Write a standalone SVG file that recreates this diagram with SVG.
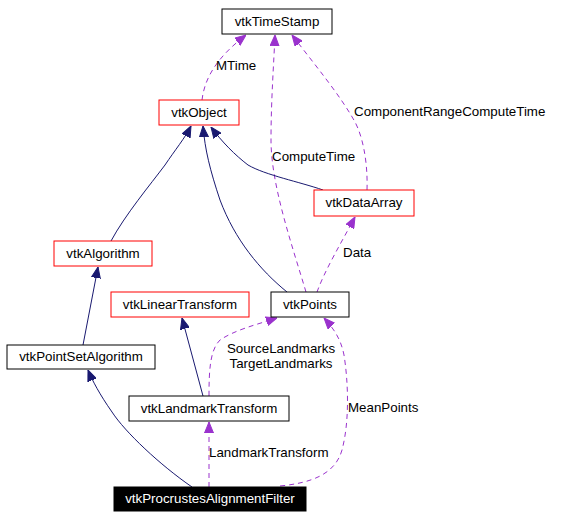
<svg xmlns="http://www.w3.org/2000/svg" width="580" height="519" viewBox="0 0 580 519">
<style>
text{font-family:"Liberation Sans",Arial,sans-serif;font-size:13.33px;fill:#000}
.n rect{fill:#fff;stroke:#000;stroke-width:1}
.n.r rect{stroke:#ff0000}
.n text{text-anchor:middle}
.inh{fill:none;stroke:#191970;stroke-width:1;marker-end:url(#ai)}
.use{fill:none;stroke:#9a32cd;stroke-width:1;stroke-dasharray:5,4;marker-end:url(#au)}
</style>
<defs>
<marker id="ai" viewBox="0 0 11 10" refX="11" refY="5" markerWidth="11" markerHeight="10" markerUnits="userSpaceOnUse" orient="auto"><path d="M0,0.5 L11,5 L0,9.5 z" fill="#191970" stroke="#191970"/></marker>
<marker id="au" viewBox="0 0 11 10" refX="11" refY="5" markerWidth="11" markerHeight="10" markerUnits="userSpaceOnUse" orient="auto"><path d="M0,0.5 L11,5 L0,9.5 z" fill="#9a32cd" stroke="#9a32cd"/></marker>
</defs>
<rect width="580" height="519" fill="#fff"/>
<g id="edges">
<path class="use" d="M202,100 C205,75 220,55 246,35"/>
<path class="use" d="M306,292 C292,245 271,185 271,140 C271,100 274,60 275,35"/>
<path class="use" d="M367,190 C368,160 362,135 355,122 C340,95 315,65 292,35"/>
<path class="inh" d="M111,241 C125,215 150,185 165,165 C175,150 185,138 191,126"/>
<path class="inh" d="M287,292 C260,270 235,240 220,200 C210,170 205,150 203,126"/>
<path class="inh" d="M323,190 C300,182 265,175 248,165 C235,155 222,142 211,127"/>
<path class="use" d="M317,292 C325,270 340,245 355,217"/>
<path class="inh" d="M83,345 L98,267"/>
<path class="inh" d="M203,396 L182,318"/>
<path class="use" d="M209,396 C209,370 210,350 220,340 C235,330 255,325 277,318"/>
<path class="inh" d="M192,487 C160,465 125,432 112,412 C100,395 92,380 88,370"/>
<path class="use" d="M209,487 L209,422"/>
<path class="use" d="M280,486 C310,483 335,475 342,450 C350,420 348,380 344,355 C341,340 335,330 324,318"/>
<text x="216" y="70">MTime</text>
<text x="354" y="116">ComponentRangeComputeTime</text>
<text x="272" y="161">ComputeTime</text>
<text x="343" y="257">Data</text>
<text x="281" y="353" text-anchor="middle">SourceLandmarks</text>
<text x="281" y="368" text-anchor="middle">TargetLandmarks</text>
<text x="348" y="412">MeanPoints</text>
<text x="209" y="457">LandmarkTransform</text>
</g>
<g id="vtkTimeStamp" class="n"><rect x="222" y="9" width="110" height="25"/><text x="277" y="26">vtkTimeStamp</text></g>
<g id="vtkObject" class="n r"><rect x="159" y="100" width="80" height="25"/><text x="199" y="117">vtkObject</text></g>
<g id="vtkAlgorithm" class="n r"><rect x="54" y="241" width="98" height="25"/><text x="103" y="258">vtkAlgorithm</text></g>
<g id="vtkDataArray" class="n r"><rect x="314" y="190" width="100" height="26"/><text x="364" y="207">vtkDataArray</text></g>
<g id="vtkPoints" class="n"><rect x="271" y="292" width="78" height="25"/><text x="310" y="309">vtkPoints</text></g>
<g id="vtkLinearTransform" class="n r"><rect x="111" y="292" width="138" height="25"/><text x="180" y="309">vtkLinearTransform</text></g>
<g id="vtkPointSetAlgorithm" class="n"><rect x="7" y="345" width="148" height="24"/><text x="81" y="361">vtkPointSetAlgorithm</text></g>
<g id="vtkLandmarkTransform" class="n"><rect x="129" y="396" width="160" height="25"/><text x="209" y="413">vtkLandmarkTransform</text></g>
<g id="vtkProcrustesAlignmentFilter" class="n"><rect x="114" y="487" width="192" height="24" style="fill:#000"/><text x="210" y="503" style="fill:#fff">vtkProcrustesAlignmentFilter</text></g>
</svg>
